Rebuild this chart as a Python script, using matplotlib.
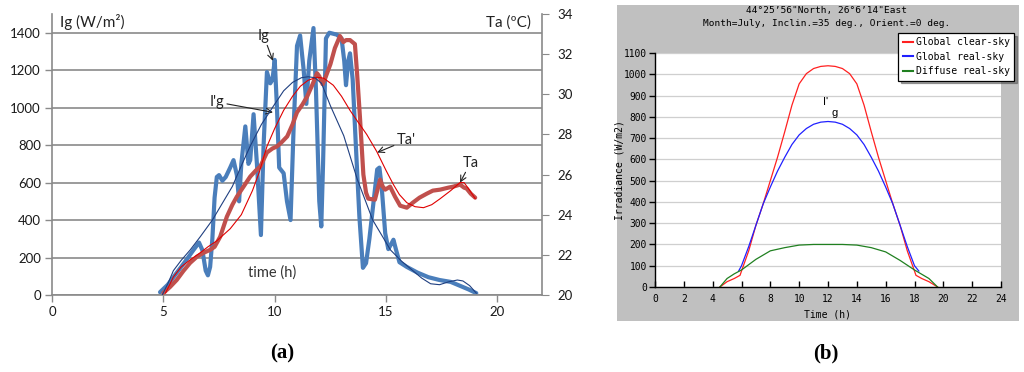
import matplotlib
matplotlib.use("Agg")
import matplotlib.pyplot as plt
from matplotlib.lines import Line2D
from matplotlib.patches import Rectangle

# ---------------- data: panel (a) ----------------
ig_t = [4.85, 5.2, 5.45, 5.8, 6.05, 6.35, 6.6, 6.75, 6.9, 7.0, 7.1, 7.2, 7.3, 7.4, 7.5, 7.65, 7.8,
        8.0, 8.15, 8.3, 8.4, 8.5, 8.68, 8.82, 8.9, 9.05, 9.2, 9.38, 9.5, 9.65, 9.8, 9.9, 10.0,
        10.1, 10.2, 10.4, 10.55, 10.71, 10.85, 11.0, 11.14, 11.3, 11.42, 11.55, 11.74, 11.85,
        12.0, 12.09, 12.17, 12.3, 12.45, 12.78, 13.0, 13.12, 13.2, 13.3, 13.38, 13.5, 13.65,
        13.8, 13.96, 14.1, 14.25, 14.43, 14.6, 14.7, 14.8, 14.96, 15.1, 15.22, 15.33, 15.45,
        15.6, 15.93, 16.4, 16.9, 17.4, 17.9, 18.3, 18.7, 19.05]
ig_v = [15, 55, 95, 150, 190, 240, 280, 240, 130, 105, 150, 300, 520, 630, 640, 610, 630,
        680, 720, 640, 500, 700, 900, 700, 720, 965, 700, 320, 800, 1190, 1130, 1150, 1255,
        1000, 680, 650, 500, 400, 900, 1330, 1385, 1200, 1020, 1250, 1425, 1100,
        500, 366, 700, 1370, 1400, 1390, 1370, 1250, 1120, 1250, 1290, 1150, 780,
        420, 145, 170, 300, 490, 670, 680, 580, 330, 245, 270, 295, 240,
        175, 150, 120, 95, 80, 70, 50, 30, 10]

igp_t = [4.95, 5.2, 5.45, 5.8, 6.2, 6.65, 7.2, 7.85, 8.1, 8.5, 8.9, 9.4, 9.95, 10.4, 10.8,
         11.2, 11.5, 11.8, 12.1, 12.5, 13.1, 13.7, 14.4, 15.2, 15.7, 16.1, 16.6, 17.0, 17.4,
         17.8, 18.2, 18.45, 18.75, 19.05]
igp_v = [0, 60, 130, 185, 240, 310, 400, 530, 580, 690, 795, 910, 1010, 1090, 1135,
         1160, 1165, 1160, 1130, 1010, 850, 620, 400, 240, 180, 140, 90, 60, 55,
         70, 80, 75, 50, 10]

ta_t = [5.0, 5.3, 5.6, 5.9, 6.2, 6.5, 6.8, 7.1, 7.3, 7.55, 7.85, 8.1, 8.3, 8.6, 8.9, 9.15,
        9.35, 9.65, 9.9, 10.1, 10.3, 10.56, 10.8, 11.0, 11.25, 11.46, 11.7, 11.9, 12.0, 12.15,
        12.3, 12.5, 12.7, 12.93, 13.08, 13.2, 13.38, 13.6, 13.7, 13.83, 13.98, 14.1, 14.2,
        14.5, 14.65, 14.73, 14.85, 14.96, 15.18, 15.4, 15.63, 15.93, 16.2, 16.5, 16.83, 17.1,
        17.43, 17.8, 18.02, 18.32, 18.5, 18.62, 18.8, 19.0]
ta_v = [20.1, 20.4, 20.75, 21.2, 21.6, 21.9, 22.1, 22.25, 22.4, 22.9, 23.9, 24.5, 24.9, 25.4,
        25.9, 26.2, 26.4, 27.1, 27.3, 27.4, 27.6, 27.9, 28.5, 29.1, 29.5, 29.9, 30.5, 31.05,
        30.9, 30.5, 30.9, 31.5, 32.3, 32.9, 32.6, 32.7, 32.7, 32.5, 31.0, 28.8, 26.0, 25.1,
        24.8, 24.75, 25.4, 25.75, 25.4, 25.25, 25.4, 24.9, 24.45, 24.35, 24.6, 24.85, 25.05,
        25.2, 25.25, 25.35, 25.4, 25.5, 25.35, 25.3, 25.05, 24.85]

tap_t = [5.1, 5.45, 5.8, 6.2, 6.65, 7.0, 7.4, 8.0, 8.5, 9.0, 9.3, 9.65, 10.0, 10.4, 10.8,
         11.15, 11.5, 11.9, 12.2, 12.63, 13.0, 13.38, 13.75, 14.13, 14.58, 15.0, 15.33, 15.6,
         15.93, 16.3, 16.68, 17.05, 17.43, 17.9, 18.32, 18.5, 18.7, 19.0]
tap_v = [20.1, 20.9, 21.4, 21.75, 22.1, 22.4, 22.7, 23.3, 24.0, 25.2, 26.1, 27.4, 28.3, 29.2,
         29.9, 30.4, 30.7, 30.85, 30.8, 30.45, 29.9, 29.2, 28.6, 28.0, 27.15, 26.2, 25.5, 25.0,
         24.6, 24.4, 24.35, 24.5, 24.8, 25.2, 25.6, 25.6, 25.3, 24.8]

a_xticks = [0, 5, 10, 15, 20]
a_yticks = [0, 200, 400, 600, 800, 1000, 1200, 1400]
a_y2ticks = [20, 22, 24, 26, 28, 30, 32, 34]

# ---------------- data: panel (b) ----------------
clear_t = [4.5, 5.0, 5.5, 5.9, 6.0, 6.5, 7.0, 7.5, 8.0, 8.5, 9.0, 9.5, 10.0, 10.5, 11.0, 11.5,
           12.0, 12.5, 13.0, 13.5, 14.0, 14.5, 15.0, 15.5, 16.0, 16.5, 17.0, 17.5, 18.0, 18.1,
           18.5, 19.0, 19.6]
clear_v = [0, 25, 40, 55, 75, 170, 290, 390, 500, 610, 730, 855, 955, 1003, 1027, 1037,
           1040, 1037, 1027, 1003, 955, 855, 730, 610, 500, 390, 290, 170, 75, 55,
           40, 25, 0]

real_t = [5.8, 6.0, 6.5, 7.0, 7.5, 8.0, 8.5, 9.0, 9.5, 10.0, 10.5, 11.0, 11.5, 12.0, 12.5,
          13.0, 13.5, 14.0, 14.5, 15.0, 15.5, 16.0, 16.5, 17.0, 17.5, 18.0, 18.3]
real_v = [75, 100, 190, 290, 390, 470, 545, 610, 670, 715, 745, 765, 775, 778, 775,
          765, 745, 715, 670, 610, 545, 470, 390, 290, 190, 100, 75]

diff_t = [4.5, 5.0, 5.5, 6.0, 7.0, 8.0, 9.0, 10.0, 11.0, 12.0, 13.0, 14.0, 15.0, 16.0, 17.0,
          18.0, 18.5, 19.0, 19.6]
diff_v = [0, 40, 62, 80, 130, 170, 185, 197, 200, 200, 200, 197, 185, 165, 125,
          80, 60, 40, 0]

b_xticks = list(range(0, 25, 2))
b_yticks = list(range(0, 1101, 100))
b_labels = ["Global clear-sky", "Global real-sky", "Diffuse real-sky"]

W, H = 1024, 372
fig = plt.figure(figsize=(W / 100, H / 100), dpi=100)

# ================= panel (a) =================
lato = "Lato"
grey = "#8A8A8A"
ax1 = fig.add_axes([52 / W, 1 - 295 / H, 490 / W, 281 / H])
ax1.set_xlim(0, 22)
ax1.set_ylim(0, 1500)
ax1.set_xticks(a_xticks)
ax1.set_yticks(a_yticks)
ax1.grid(axis="y", color=grey, lw=1.2)
ax1.set_axisbelow(True)
for s in ["top", "right"]:
    ax1.spines[s].set_visible(False)
for s in ["left", "bottom"]:
    ax1.spines[s].set_color(grey)
    ax1.spines[s].set_linewidth(1.2)
ax1.tick_params(axis="both", direction="out", length=5, color=grey, width=1.0,
                labelsize=9.5, labelcolor="#1a1a1a", pad=3)
for lab in ax1.get_xticklabels() + ax1.get_yticklabels():
    lab.set_family(lato)

ax1.plot(ig_t, ig_v, color="#4A7EBB", lw=3.0, solid_joinstyle="round", solid_capstyle="round", zorder=2)

ax3 = ax1.twinx()
ax3.set_ylim(20, 34.0)
ax3.set_yticks(a_y2ticks)
for s in ["top", "left", "bottom"]:
    ax3.spines[s].set_visible(False)
ax3.spines["right"].set_color(grey)
ax3.spines["right"].set_linewidth(1.2)
ax3.tick_params(axis="y", direction="out", length=5, color=grey, labelsize=9.5,
                labelcolor="#1a1a1a", pad=6)
for lab in ax3.get_yticklabels():
    lab.set_family(lato)

ax3.plot(ta_t, ta_v, color="#C0504D", lw=3.0, solid_joinstyle="round", solid_capstyle="round", zorder=3)
ax3.plot(tap_t, tap_v, color="#E00000", lw=0.8, zorder=4)
# I'g thin line drawn on top, mapped from the Ig scale onto the twin scale
igp_on_t = [20 + v * 14 / 1500 for v in igp_v]
ax3.plot(igp_t, igp_on_t, color="#1F3F80", lw=0.8, zorder=4)

tf = dict(family=lato, fontsize=10.5, color="#222222")
ax1.text(0.36, 1458, "Ig (W/m²)", ha="left", va="center", family=lato, fontsize=11, color="#222222")
ax1.text(21.5, 1452, "Ta (ºC)", ha="right", va="center", family=lato, fontsize=11, color="#222222")
ax1.text(9.9, 118, "time (h)", ha="center", va="center", family=lato, fontsize=10.5, color="#333333")

arr = dict(arrowstyle="->", color="#222222", lw=0.8, shrinkA=0, shrinkB=0)
ax1.annotate("Ig", xy=(9.92, 1250), xytext=(9.5, 1385), ha="center", va="center",
             arrowprops=arr, **tf)
ax1.annotate("I'g", xy=(9.92, 975), xytext=(7.4, 1030), ha="center", va="center",
             arrowprops=arr, **tf)
ax3.annotate("Ta'", xy=(14.6, 27.1), xytext=(15.9, 27.7), ha="center", va="center",
             arrowprops=arr, **tf)
ax3.annotate("Ta", xy=(18.32, 25.6), xytext=(18.8, 26.6), ha="center", va="center",
             arrowprops=arr, **tf)

fig.text(282 / W, 1 - 353 / H, "(a)", ha="center", va="center",
         family="Liberation Serif", fontweight="bold", fontsize=15)
fig.text(826 / W, 1 - 353 / H, "(b)", ha="center", va="center",
         family="Liberation Serif", fontweight="bold", fontsize=15)

# ================= panel (b) =================
fig.patches.append(Rectangle((617 / W, 1 - 321 / H), 402 / W, 316 / H,
                             transform=fig.transFigure, facecolor="#C0C0C0",
                             edgecolor="none", zorder=-10))
mono = "DejaVu Sans Mono"
ax2 = fig.add_axes([655 / W, 1 - 287 / H, 346 / W, 234 / H])
ax2.set_facecolor("white")
ax2.set_xlim(0, 24)
ax2.set_ylim(0, 1100)
ax2.set_xticks(b_xticks)
ax2.set_yticks(b_yticks)
ax2.grid(axis="y", color="#CFCFCF", lw=0.9)
ax2.set_axisbelow(True)
for s in ["top", "right"]:
    ax2.spines[s].set_visible(False)
for s in ["left", "bottom"]:
    ax2.spines[s].set_color("black")
    ax2.spines[s].set_linewidth(1.0)
ax2.tick_params(axis="x", direction="in", length=4, width=1.0, labelsize=6.9, pad=5)
ax2.tick_params(axis="y", direction="out", length=4, width=1.0, labelsize=6.9, pad=2)
for lab in ax2.get_xticklabels() + ax2.get_yticklabels():
    lab.set_family(mono)
ax2.set_xlabel("Time (h)", family=mono, fontsize=7.0, labelpad=4)
ax2.set_ylabel("Irradiance (W/m2)", family=mono, fontsize=7.0)
ax2.yaxis.set_label_coords((625 - 655) / 346, 0.5)

l1, = ax2.plot(clear_t, clear_v, color="#FF2020", lw=0.9)
l2, = ax2.plot(real_t, real_v, color="#2020FF", lw=0.9)
l3, = ax2.plot(diff_t, diff_v, color="#208020", lw=0.9)

ax2.text(11.85, 870, "I'", ha="center", va="center", family="Liberation Sans", fontsize=8)
ax2.text(12.45, 820, "g", ha="center", va="center", family="Liberation Sans", fontsize=8)

fig.text(827 / W, 1 - 10 / H, "44°25\u201956\"North, 26°6\u201914\"East", ha="center", va="center",
         family=mono, fontsize=6.8)
fig.text(827 / W, 1 - 24 / H, "Month=July, Inclin.=35 deg., Orient.=0 deg.", ha="center",
         va="center", family=mono, fontsize=6.8)

handles = [Line2D([], [], color="#FF2020", lw=1.5),
           Line2D([], [], color="#2020FF", lw=1.5),
           Line2D([], [], color="#208020", lw=1.5)]
leg = fig.legend(handles, b_labels, loc="upper right", bbox_to_anchor=(1014 / W, 1 - 33 / H),
                 bbox_transform=fig.transFigure, prop=dict(family=mono, size=7.0),
                 frameon=True, fancybox=False, shadow=True, framealpha=1,
                 edgecolor="black", handlelength=1.1, handletextpad=0.25,
                 labelspacing=0.45, borderpad=0.45, borderaxespad=0)
leg.get_frame().set_linewidth(0.9)

fig.savefig("out.png", dpi=100)
